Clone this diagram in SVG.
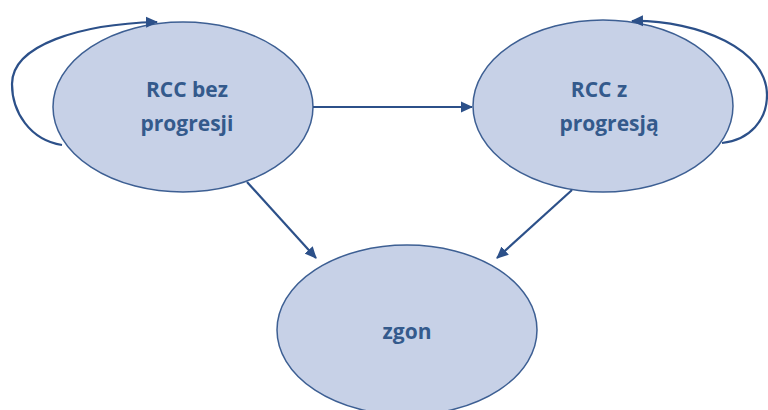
<svg xmlns="http://www.w3.org/2000/svg" width="768" height="410" viewBox="0 0 768 410">
<style>
.node{fill:#c7d1e7;stroke:#3d5f93;stroke-width:1.5}
.lbl{font-family:"Open Sans","Liberation Sans",sans-serif;font-weight:bold;font-size:21px;fill:#345a8c;text-anchor:middle}
.edge{fill:none;stroke:#2c5089;stroke-width:2.2}
</style>
<defs>
<marker id="ah" markerWidth="12" markerHeight="12" refX="11" refY="6" orient="auto" markerUnits="userSpaceOnUse" viewBox="0 0 12 12">
<path d="M0,0.5 L12,6 L0,11.5 z" fill="#2c5089"/>
</marker>
</defs>
<rect width="768" height="410" fill="#ffffff"/>
<g id="n1">
<ellipse class="node" cx="183" cy="107" rx="130" ry="85"/>
<text class="lbl" x="187" y="97">RCC bez</text>
<text class="lbl" x="187" y="131">progresji</text>
</g>
<g id="n2">
<ellipse class="node" cx="603" cy="106" rx="130" ry="86"/>
<text class="lbl" x="599" y="97">RCC z</text>
<text class="lbl" x="609" y="131">progresją</text>
</g>
<g id="n3">
<ellipse class="node" cx="407" cy="330" rx="130" ry="85"/>
<text class="lbl" x="407" y="339">zgon</text>
</g>
<g id="edges">
<path class="edge" d="M62,145 C30,140 12,112 12,84 C12,45 80,24 157,22" marker-end="url(#ah)"/>
<path class="edge" d="M722,143 C750,140 767,120 767,95 C767,50 700,20 632,21" marker-end="url(#ah)"/>
<path class="edge" d="M313,107 L472,107" marker-end="url(#ah)"/>
<path class="edge" d="M247,182 L316,258" marker-end="url(#ah)"/>
<path class="edge" d="M572,190 L497,258" marker-end="url(#ah)"/>
</g>
</svg>
